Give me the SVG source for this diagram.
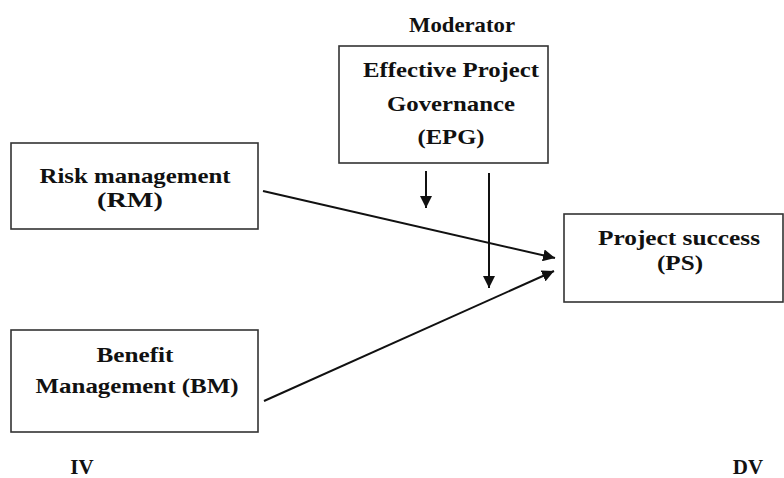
<svg xmlns="http://www.w3.org/2000/svg" width="784" height="478" viewBox="0 0 784 478">
<style>
.box{fill:#fff;stroke:#333;stroke-width:1.6}
.t{font-family:"Liberation Serif","Times New Roman",serif;font-weight:bold;font-size:21.5px;fill:#111;text-anchor:middle}
.s{font-family:"Liberation Serif","Times New Roman",serif;font-weight:bold;font-size:21px;fill:#111;text-anchor:middle}
.c{stroke:#111;stroke-width:2;fill:none;marker-end:url(#ah)}
</style>
<defs>
<marker id="ah" markerUnits="userSpaceOnUse" markerWidth="13" markerHeight="12" refX="12" refY="6" orient="auto">
<path d="M0,0 L12,6 L0,12 z" fill="#111"/>
</marker>
</defs>
<rect width="784" height="478" fill="#fff"/>
<text class="s" x="462" y="32" textLength="106" lengthAdjust="spacingAndGlyphs">Moderator</text>
<g id="epg">
<rect class="box" x="339" y="46" width="209" height="117"/>
<text class="t" x="451" y="77" textLength="176" lengthAdjust="spacingAndGlyphs">Effective Project</text>
<text class="t" x="451" y="111" textLength="128" lengthAdjust="spacingAndGlyphs">Governance</text>
<text class="t" x="451" y="144" textLength="67" lengthAdjust="spacingAndGlyphs">(EPG)</text>
</g>
<g id="rm">
<rect class="box" x="11" y="143" width="247" height="86"/>
<text class="t" x="135" y="183" textLength="191" lengthAdjust="spacingAndGlyphs">Risk management</text>
<text class="t" x="130" y="207" textLength="66" lengthAdjust="spacingAndGlyphs">(RM)</text>
</g>
<g id="ps">
<rect class="box" x="564" y="214" width="219" height="88"/>
<text class="t" x="679" y="245" textLength="162" lengthAdjust="spacingAndGlyphs">Project success</text>
<text class="t" x="680" y="270" textLength="46" lengthAdjust="spacingAndGlyphs">(PS)</text>
</g>
<g id="bm">
<rect class="box" x="11" y="330" width="247" height="102"/>
<text class="t" x="135" y="362" textLength="77" lengthAdjust="spacingAndGlyphs">Benefit</text>
<text class="t" x="137" y="393" textLength="203" lengthAdjust="spacingAndGlyphs">Management (BM)</text>
</g>
<g id="connectors">
<line class="c" x1="263" y1="191" x2="555" y2="258"/>
<line class="c" x1="264" y1="401" x2="554" y2="271"/>
<line class="c" x1="426" y1="171" x2="426" y2="208"/>
<line class="c" x1="489" y1="173" x2="489" y2="288"/>
</g>
<text class="s" x="82" y="474">IV</text>
<text class="s" x="748" y="474">DV</text>
</svg>
